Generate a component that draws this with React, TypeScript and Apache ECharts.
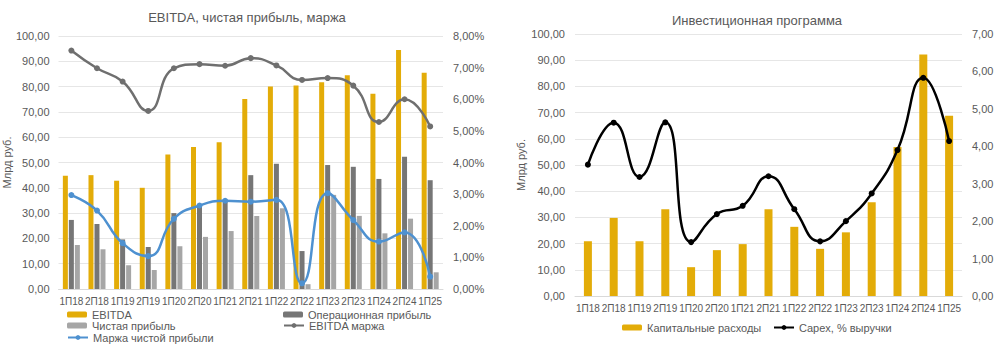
import React, { useEffect, useRef } from "react";
import * as echarts from "echarts";

const categories = ["1П18", "2П18", "1П19", "2П19", "1П20", "2П20", "1П21", "2П21", "1П22", "2П22", "1П23", "2П23", "1П24", "2П24", "1П25"];
const ebitda = [44.8, 45, 42.8, 40, 53.2, 56.1, 58, 75.1, 80, 80.4, 81.7, 84.5, 77.2, 94.5, 85.5];
const opProfit = [27.3, 25.7, 19.6, 16.6, 30, 33.2, 35.2, 45, 49.5, 15, 49, 48.3, 43.5, 52.3, 43];
const netProfit = [17.4, 15.7, 9.4, 7.5, 16.9, 20.6, 22.9, 28.9, 31.9, 1.9, 37.2, 28.9, 22, 27.8, 6.6];
const ebitdaMargin = [7.54, 6.98, 6.56, 5.63, 6.98, 7.11, 7.06, 7.3, 7.07, 6.61, 6.67, 6.43, 5.28, 6.0, 5.14];
const netMargin = [2.97, 2.48, 1.45, 1.04, 2.22, 2.64, 2.79, 2.76, 2.82, 0.18, 3.03, 2.18, 1.5, 1.79, 0.39];
const capex = [20.9, 29.8, 20.9, 33.1, 11.0, 17.5, 19.8, 33.1, 26.4, 18, 24.3, 35.8, 56.9, 92.2, 68.8];
const capexPct = [3.51, 4.63, 3.18, 4.64, 1.44, 2.19, 2.41, 3.2, 2.32, 1.46, 2.0, 2.74, 3.9, 5.83, 4.14];

const FONT = "Liberation Sans, Arial, sans-serif";
const TXT = "#595959";
const GOLD = "#E3AC08";
const DARK = "#767676";
const LIGHT = "#A6A6A6";
const LINEGRAY = "#6F6F6F";
const BLUE = "#4E91D0";

const fmt2 = (v: number) => v.toFixed(2).replace(".", ",");

export default function App() {
  const ref = useRef<HTMLDivElement>(null);
  useEffect(() => {
    if (!ref.current) return;
    const chart = echarts.init(ref.current, null, { renderer: "svg" });
    const axisLabel = { color: TXT, fontSize: 11, fontFamily: FONT };
    const splitLine = { show: true, lineStyle: { color: "#E6E6E6", width: 1 } };
    const xAxisCommon = {
      type: "category" as const,
      data: categories,
      axisTick: { show: false },
      axisLine: { lineStyle: { color: "#D9D9D9" } },
      axisLabel: { color: TXT, fontSize: 10, fontFamily: FONT, interval: 0, margin: 7 },
    };
    const legendText = { color: TXT, fontSize: 11, fontFamily: FONT };
    const mkLegend = (name: string, left: number, top: number) => ({
      data: [name],
      left,
      top,
      itemWidth: 20,
      itemHeight: 6,
      itemGap: 5,
      textStyle: legendText,
      selectedMode: false,
      padding: 0,
    });
    chart.setOption({
      animation: false,
      backgroundColor: "#fff",
      title: [
        { text: "EBITDA, чистая прибыль, маржа", left: 242, top: 6, textAlign: "center", textStyle: { color: TXT, fontSize: 13, fontWeight: "normal", fontFamily: FONT } },
        { text: "Инвестиционная программа", left: 752, top: 9, textAlign: "center", textStyle: { color: TXT, fontSize: 13, fontWeight: "normal", fontFamily: FONT } },
      ],
      legend: [
        mkLegend("EBITDA", 67, 309),
        mkLegend("Операционная прибыль", 283, 309),
        mkLegend("Чистая прибыль", 67, 320),
        mkLegend("EBITDA маржа", 283, 320),
        mkLegend("Маржа чистой прибыли", 67, 332),
        mkLegend("Капитальные расходы", 622, 322),
        mkLegend("Capex, % выручки", 773, 322),
      ],
      grid: [
        { left: 51, right: 557, top: 36, bottom: 62 },
        { left: 575, right: 38, top: 34, bottom: 55 },
      ],
      xAxis: [
        { ...xAxisCommon, gridIndex: 0 },
        { ...xAxisCommon, gridIndex: 1 },
      ],
      yAxis: [
        {
          type: "value", gridIndex: 0, min: 0, max: 100, interval: 10,
          axisLabel: { ...axisLabel, formatter: (v: number) => fmt2(v), margin: 9 },
          splitLine, axisLine: { show: false }, axisTick: { show: false },
          name: "Млрд руб.", nameLocation: "middle", nameGap: 40,
          nameTextStyle: { color: TXT, fontSize: 11, fontFamily: FONT },
        },
        {
          type: "value", gridIndex: 0, min: 0, max: 8, interval: 1, position: "right",
          axisLabel: { ...axisLabel, formatter: (v: number) => fmt2(v) + "%", margin: 10 },
          splitLine: { show: false }, axisLine: { show: false }, axisTick: { show: false },
        },
        {
          type: "value", gridIndex: 1, min: 0, max: 100, interval: 10,
          axisLabel: { ...axisLabel, formatter: (v: number) => fmt2(v), margin: 10 },
          splitLine, axisLine: { show: false }, axisTick: { show: false },
          name: "Млрд руб.", nameLocation: "middle", nameGap: 49,
          nameTextStyle: { color: TXT, fontSize: 11, fontFamily: FONT },
        },
        {
          type: "value", gridIndex: 1, min: 0, max: 7, interval: 1, position: "right",
          axisLabel: { ...axisLabel, formatter: (v: number) => fmt2(v), margin: 10 },
          splitLine: { show: false }, axisLine: { show: false }, axisTick: { show: false },
        },
      ],
      series: [
        { name: "EBITDA", type: "bar", xAxisIndex: 0, yAxisIndex: 0, data: ebitda, barWidth: 5, barGap: "20%", itemStyle: { color: GOLD } },
        { name: "Операционная прибыль", type: "bar", xAxisIndex: 0, yAxisIndex: 0, data: opProfit, barWidth: 5, barGap: "20%", itemStyle: { color: DARK } },
        { name: "Чистая прибыль", type: "bar", xAxisIndex: 0, yAxisIndex: 0, data: netProfit, barWidth: 5, barGap: "20%", itemStyle: { color: LIGHT } },
        {
          name: "EBITDA маржа", type: "line", xAxisIndex: 0, yAxisIndex: 1, data: ebitdaMargin,
          smooth: 0.5, smoothConstraint: false, symbol: "circle", symbolSize: 6,
          lineStyle: { color: LINEGRAY, width: 2.5 }, itemStyle: { color: LINEGRAY },
        },
        {
          name: "Маржа чистой прибыли", type: "line", xAxisIndex: 0, yAxisIndex: 1, data: netMargin,
          smooth: 0.5, smoothConstraint: false, symbol: "circle", symbolSize: 6,
          lineStyle: { color: BLUE, width: 2.5 }, itemStyle: { color: BLUE },
        },
        { name: "Капитальные расходы", type: "bar", xAxisIndex: 1, yAxisIndex: 2, data: capex, barWidth: 8, itemStyle: { color: GOLD } },
        {
          name: "Capex, % выручки", type: "line", xAxisIndex: 1, yAxisIndex: 3, data: capexPct,
          smooth: 0.5, smoothConstraint: false, symbol: "circle", symbolSize: 6,
          lineStyle: { color: "#000", width: 2.5 }, itemStyle: { color: "#000" },
        },
      ],
    });
    return () => chart.dispose();
  }, []);
  return <div ref={ref} style={{ width: 1000, height: 351, position: "absolute", left: 0, top: 0 }} />;
}
